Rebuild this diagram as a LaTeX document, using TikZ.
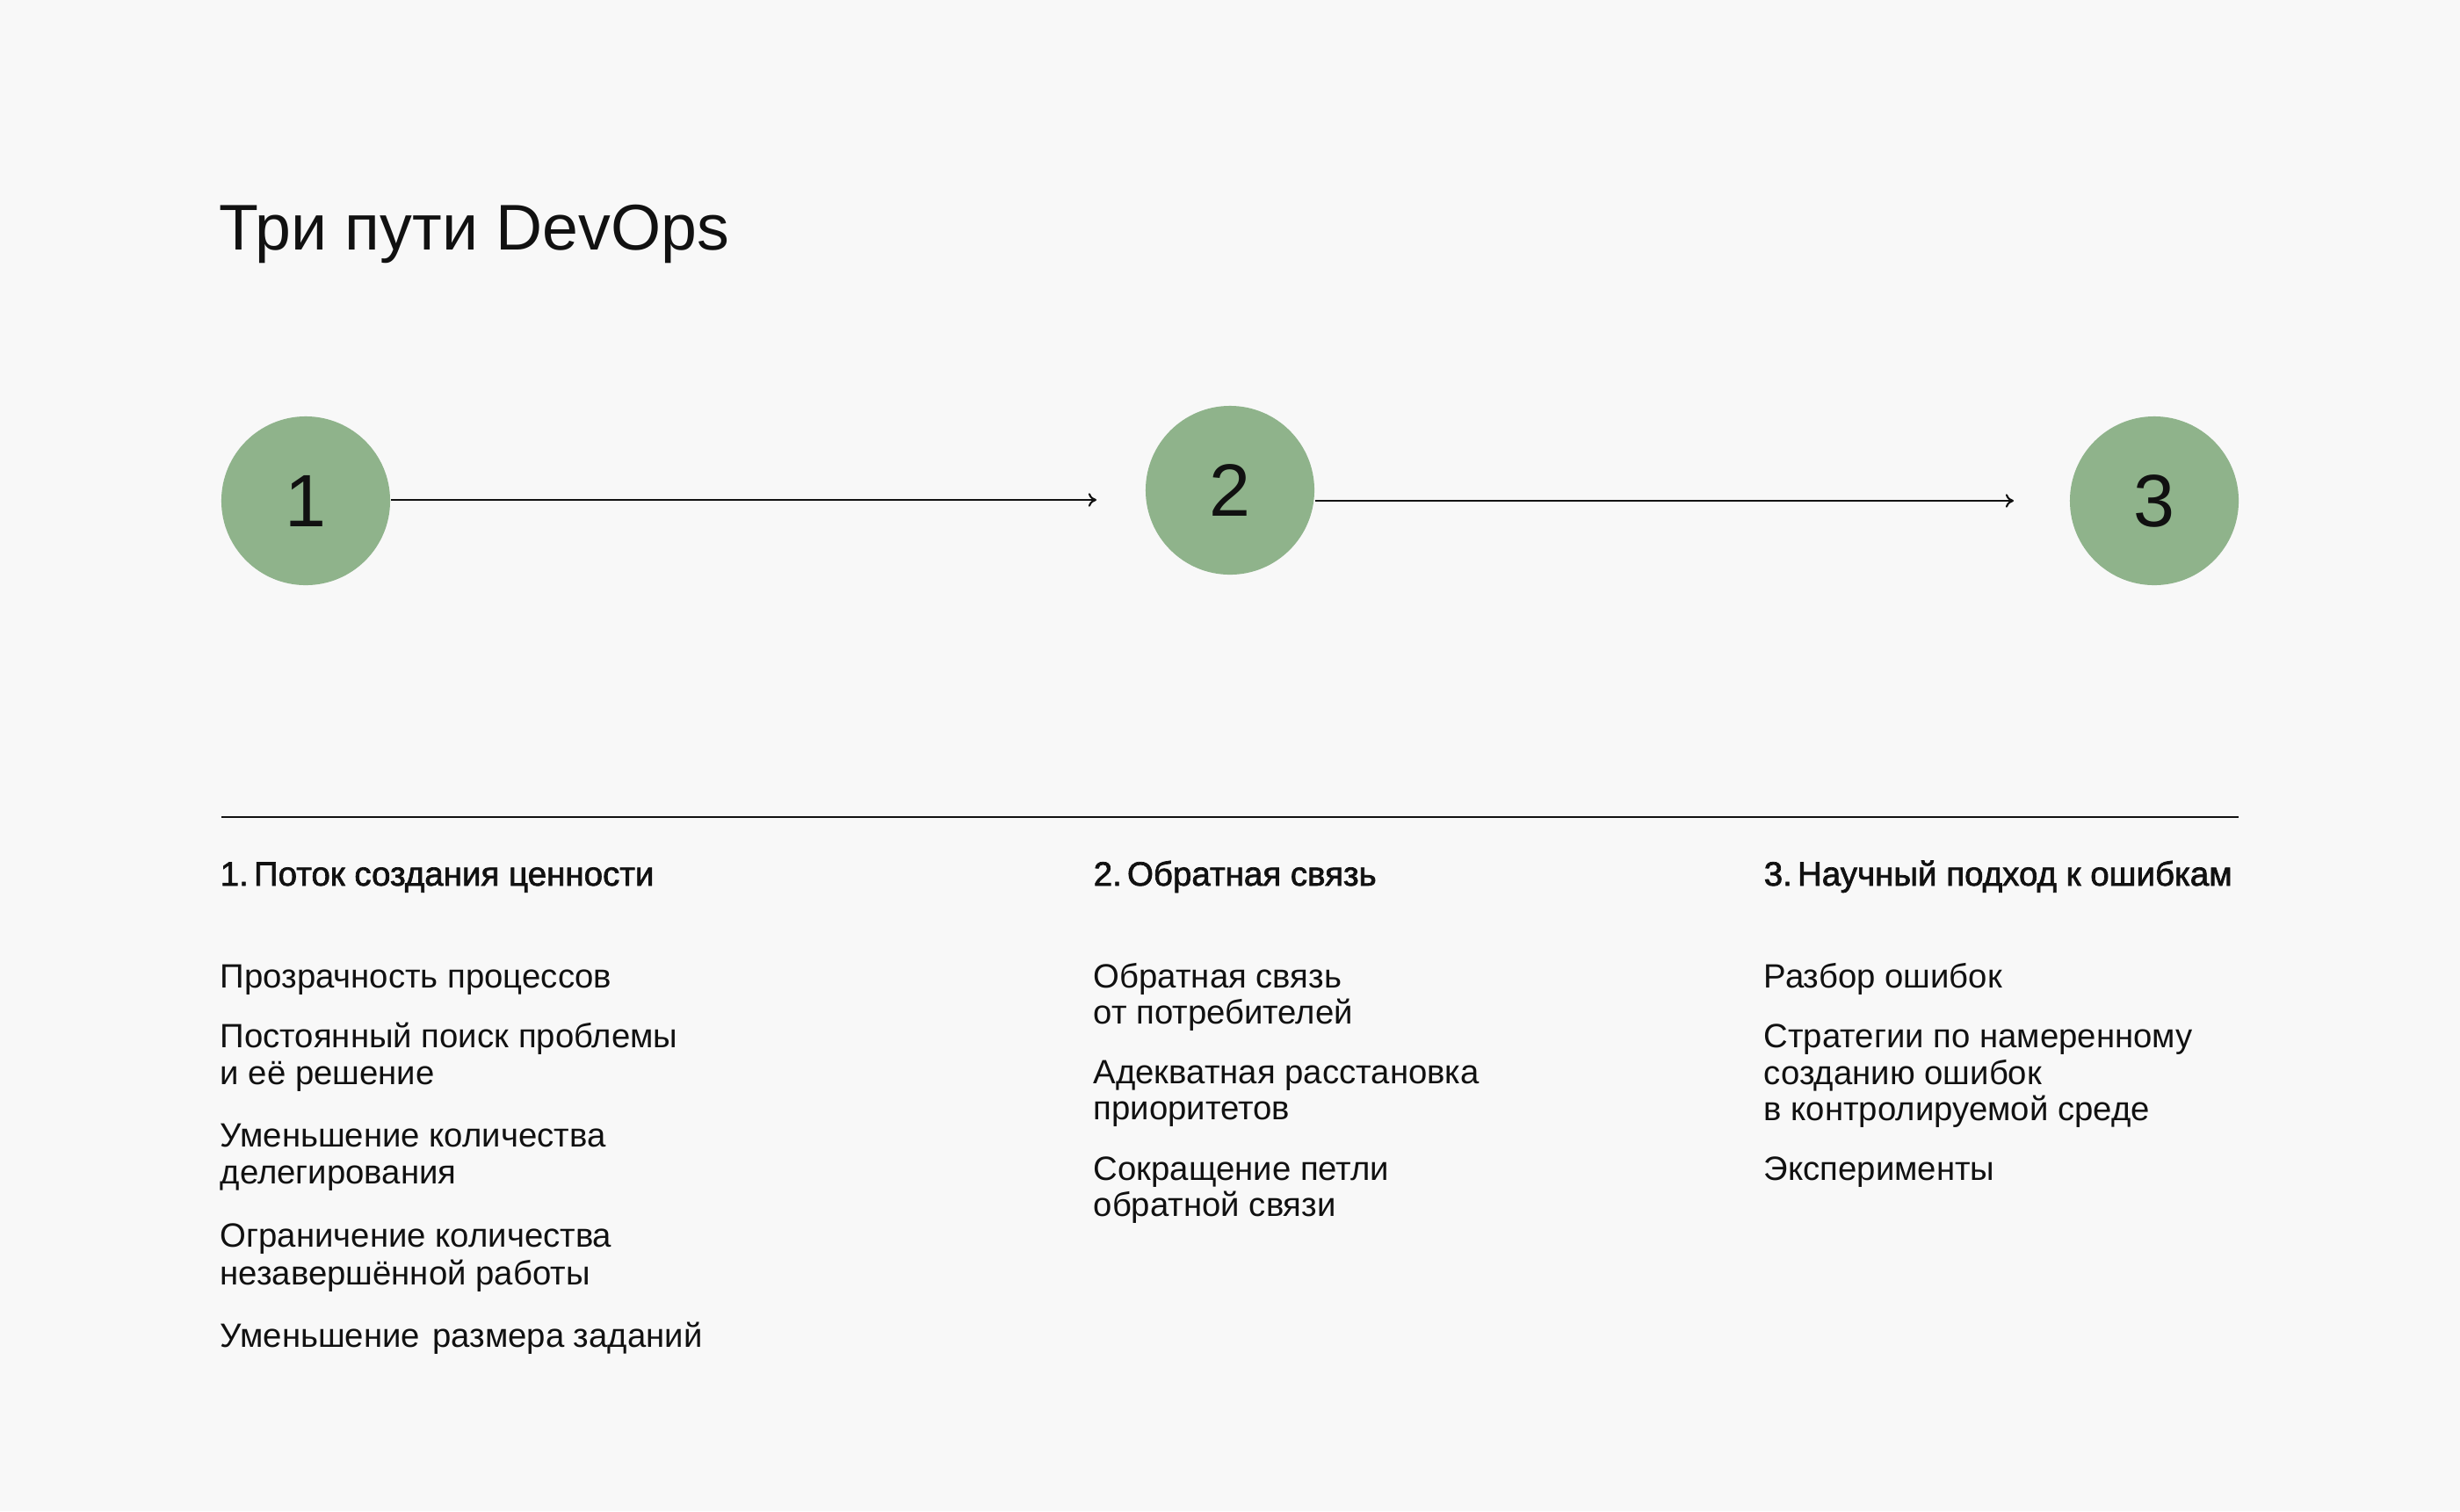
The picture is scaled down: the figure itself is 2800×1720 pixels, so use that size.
\documentclass[tikz,border=0pt]{standalone}
\usepackage{fontspec}
\setmainfont{Liberation Sans}
\usetikzlibrary{arrows.meta}
\definecolor{bg}{HTML}{F8F8F8}
\definecolor{dotgreen}{HTML}{8FB38B}
\definecolor{ink}{HTML}{111111}
\begin{document}
\begin{tikzpicture}[x=0.01cm,y=-0.01cm,
  circ/.style={circle, fill=dotgreen, minimum size=1.92cm, inner sep=0pt, text=ink, font=\fontsize{24}{28}\selectfont},
  txt/.style={anchor=base west, inner sep=0pt, text=ink, font=\fontsize{10.9}{12}\selectfont},
  hdr/.style={anchor=base west, inner sep=0pt, text=ink, font=\fontsize{10.95}{12}\selectfont\addfontfeature{FakeBold=1.8}},
  arr/.style={-{To[length=2.6pt,width=4.4pt]}, line width=0.6pt, draw=ink},
  rule/.style={line width=0.6pt, draw=ink}]
\fill[bg] (0,0) rectangle (2800,1720);
\useasboundingbox (0,0) rectangle (2800,1720);

\node[anchor=base west, inner sep=0pt, text=ink, font=\fontsize{20.9}{24}\selectfont] (title) at (249,284) {Три пути DevOps};

\node[circ] (c1) at (348,570) {1};
\node[circ] (c2) at (1400,558) {2};
\node[circ] (c3) at (2452,570) {3};
\coordinate (e1) at (1248,569);
\coordinate (e2) at (2292,570);
\draw[arr] (c1.east |- e1) -- (e1);
\draw[arr] (c2.east |- e2) -- (e2);

\coordinate (r1) at (252,930);
\coordinate (r2) at (2548,930);
\draw[rule] (r1) -- (r2);

\node[hdr] (h1) at (250,1008) {1.\hspace{0.16em}Поток создания ценности};
\node[hdr] (h2) at (1244,1008) {2.\hspace{0.16em}Обратная связь};
\node[hdr] (h3) at (2007,1008) {3.\hspace{0.16em}Научный подход к ошибкам};

\node[txt] (a1) at (250,1124) {Прозрачность процессов};
\node[txt] (a2) at (250,1192) {Постоянный поиск проблемы};
\node[txt] (a3) at (250,1234) {и её решение};
\node[txt] (a4) at (250,1305) {Уменьшение количества};
\node[txt] (a5) at (250,1347) {делегирования};
\node[txt] (a6) at (250,1419) {Ограничение количества};
\node[txt] (a7) at (250,1462) {незавершённой работы};
\node[txt] (a8) at (250,1533) {Уменьшение\hspace{0.37em}размера заданий};

\node[txt] (b1) at (1244,1124) {Обратная связь};
\node[txt] (b2) at (1244,1165) {от потребителей};
\node[txt] (b3) at (1244,1233) {Адекватная расстановка};
\node[txt] (b4) at (1244,1274) {приоритетов};
\node[txt] (b5) at (1244,1343) {Сокращение петли};
\node[txt] (b6) at (1244,1384) {обратной связи};

\node[txt] (d1) at (2007,1124) {Разбор ошибок};
\node[txt] (d2) at (2007,1192) {Стратегии по намеренному};
\node[txt] (d3) at (2007,1234) {созданию ошибок};
\node[txt] (d4) at (2007,1275) {в контролируемой среде};
\node[txt] (d5) at (2007,1343) {Эксперименты};
\end{tikzpicture}
\end{document}
